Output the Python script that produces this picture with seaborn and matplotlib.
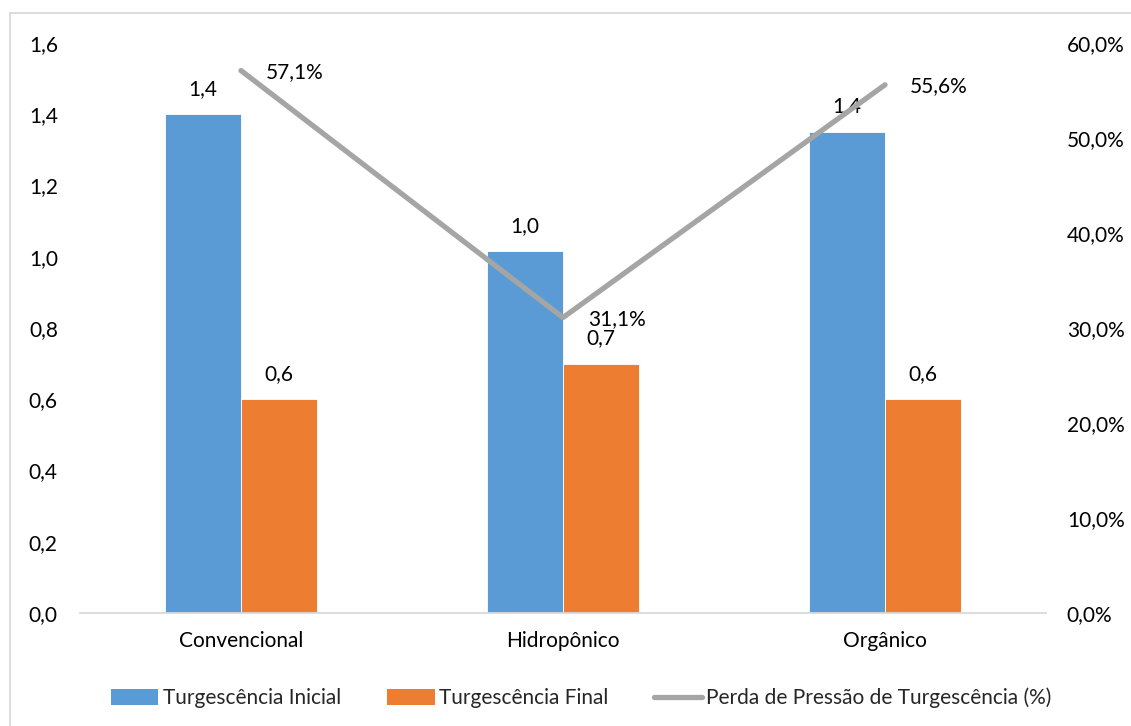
import matplotlib
matplotlib.use("Agg")
import matplotlib.pyplot as plt
from matplotlib.lines import Line2D
from matplotlib.patches import Patch
import seaborn as sns
import pandas as pd
import numpy as np

# Data
categories = ["Convencional", "Hidropônico", "Orgânico"]
turg_inicial = [1.40, 1.016, 1.351]
turg_final = [0.60, 0.70, 0.60]
perda_pct = [57.1, 31.1, 55.6]
series_names = ["Turgescência Inicial", "Turgescência Final"]
line_name = "Perda de Pressão de Turgescência (%)"

left_ticks = [0.0, 0.2, 0.4, 0.6, 0.8, 1.0, 1.2, 1.4, 1.6]
right_ticks = [0, 10, 20, 30, 40, 50, 60]

BLUE = "#5B9BD5"
ORANGE = "#ED7D31"
GRAY = "#A5A5A5"
TEXT = "#000000"
FS = 15

sns.set_theme(style="white")
plt.rcParams["font.family"] = ["Lato", "DejaVu Sans"]

df = pd.DataFrame({
    "categoria": categories * 2,
    "serie": [series_names[0]] * 3 + [series_names[1]] * 3,
    "valor": turg_inicial + turg_final,
})

fig = plt.figure(figsize=(11.31, 7.26), dpi=100)
W, H = 1131, 726
ax = fig.add_axes([80 / W, 1 - 613 / H, (1046 - 80) / W, (613 - 43) / H])

sns.barplot(data=df, x="categoria", y="valor", hue="serie", order=categories,
            hue_order=series_names, palette=[BLUE, ORANGE], width=0.475,
            dodge=True, gap=0, saturation=1, errorbar=None, legend=False,
            edgecolor="white", linewidth=0.6, ax=ax)

ax.set_ylim(0, 1.6)
ax.set_xlim(-0.5, 2.5)
ax.set_yticks(left_ticks)
ax.set_yticklabels([f"{t:.1f}".replace(".", ",") for t in left_ticks])
ax.set_xlabel("")
ax.set_ylabel("")
ax.tick_params(axis="both", length=0, labelsize=FS, colors=TEXT)
ax.tick_params(axis="y", pad=16)
ax.tick_params(axis="x", pad=13)
for s in ["top", "right", "left"]:
    ax.spines[s].set_visible(False)
ax.spines["bottom"].set_color("#D9D9D9")
ax.spines["bottom"].set_linewidth(1.3)

# Bar value labels
for cont in ax.containers:
    labels = [f"{v:.1f}".replace(".", ",") for v in cont.datavalues]
    ax.bar_label(cont, labels=labels, padding=11, fontsize=FS, color=TEXT)

# Secondary axis: pressure loss line
ax2 = ax.twinx()
sns.lineplot(x=categories, y=perda_pct, color=GRAY, linewidth=3.8,
             sort=False, ax=ax2, legend=False, solid_capstyle="round")
ax2.set_ylim(0, 60)
ax2.set_xlim(-0.5, 2.5)
ax2.set_yticks(right_ticks)
ax2.set_yticklabels([f"{t:.1f}%".replace(".", ",") for t in right_ticks])
ax2.set_ylabel("")
ax2.tick_params(axis="y", length=0, labelsize=FS, colors=TEXT, pad=15)
for s in ax2.spines.values():
    s.set_visible(False)

for i, v in enumerate(perda_pct):
    ax2.annotate(f"{v:.1f}%".replace(".", ","), xy=(i, v), xytext=(18, -1),
                 textcoords="offset points", ha="left", va="center",
                 fontsize=FS, color=TEXT)

# Legend
handles = [
    Patch(facecolor=BLUE, edgecolor="none"),
    Patch(facecolor=ORANGE, edgecolor="none"),
    Line2D([0], [0], color=GRAY, linewidth=3.8, solid_capstyle="round"),
]
fig.legend(handles, series_names + [line_name], loc="center",
           bbox_to_anchor=(581 / W, 1 - 698 / H), ncol=3, frameon=False,
           fontsize=FS, handlelength=2.3, handleheight=0.8,
           handletextpad=0.2, columnspacing=2.2)

# Outer chart frame
fig.add_artist(Line2D([10 / W, 1.0], [1 - 13 / H, 1 - 13 / H],
                      color="#D9D9D9", linewidth=1.3, transform=fig.transFigure))
fig.add_artist(Line2D([10 / W, 10 / W], [0.0, 1 - 13 / H],
                      color="#D9D9D9", linewidth=1.3, transform=fig.transFigure))

fig.savefig("out.png", dpi=100, facecolor="white")
